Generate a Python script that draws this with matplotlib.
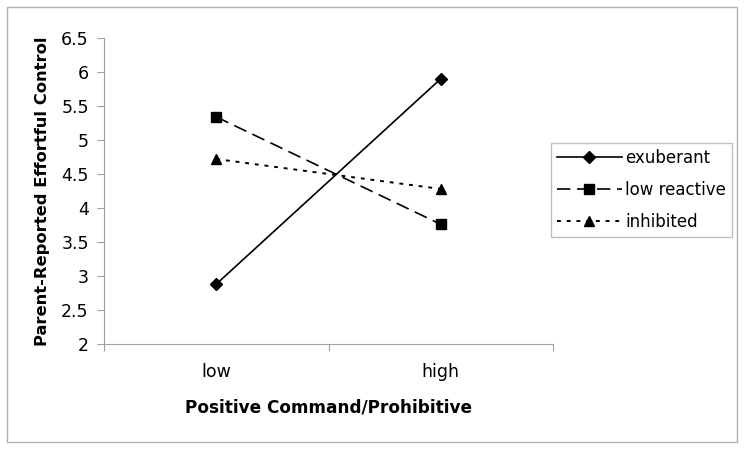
import matplotlib
matplotlib.use('Agg')
import matplotlib.pyplot as plt
from matplotlib.patches import Rectangle

categories = ['low', 'high']
exuberant = [2.88, 5.90]
low_reactive = [5.34, 3.76]
inhibited = [4.72, 4.28]

plt.rcParams['font.family'] = 'DejaVu Sans'
plt.rcParams['font.size'] = 12.5

fig = plt.figure(figsize=(7.44, 4.5), dpi=100)
ax = fig.add_axes([104 / 744, 1 - 344 / 450, 449 / 744, 306 / 450])

# outer chart border
fig.patches.append(Rectangle((7 / 744, 1 - 442 / 450), 730 / 744, 435 / 450,
                             transform=fig.transFigure, fill=False,
                             edgecolor='#b0b0b0', linewidth=1))

x = range(len(categories))
ax.plot(x, exuberant, color='black', linestyle='-', linewidth=1.2,
        marker='D', markersize=6, label='exuberant')
ax.plot(x, low_reactive, color='black', linestyle=(0, (8, 4)), linewidth=1.2,
        marker='s', markersize=6.5, label='low reactive')
ax.plot(x, inhibited, color='black', linestyle=(0, (2, 3)), linewidth=1.4,
        marker='^', markersize=7.5, label='inhibited')

ax.set_xlim(-0.5, 1.5)
ax.set_ylim(2, 6.5)
ax.set_yticks([2, 2.5, 3, 3.5, 4, 4.5, 5, 5.5, 6, 6.5])
ax.set_yticklabels(['2', '2.5', '3', '3.5', '4', '4.5', '5', '5.5', '6', '6.5'])
ax.set_xticks([-0.5, 0.5, 1.5])
ax.set_xticklabels([])
ax.set_xticks([0, 1], minor=True)
ax.set_xticklabels(categories, minor=True)
ax.tick_params(axis='x', which='minor', length=0, pad=14)
ax.tick_params(axis='x', which='major', length=5, color='#a0a0a0', direction='out')
ax.tick_params(axis='y', length=5, color='#a0a0a0', direction='out', pad=6)

for side in ['top', 'right']:
    ax.spines[side].set_visible(False)
for side in ['left', 'bottom']:
    ax.spines[side].set_color('#a0a0a0')

ax.set_xlabel('Positive Command/Prohibitive', fontweight='bold', fontsize=12.2, labelpad=12)
ax.set_ylabel('Parent-Reported Effortful Control', fontweight='bold', fontsize=11.8, labelpad=8)

leg = fig.legend(loc='center left', bbox_to_anchor=(551 / 744, 1 - 190 / 450),
                 frameon=True, fancybox=False, edgecolor='#b0b0b0',
                 fontsize=12, handlelength=3.9, borderpad=0.35, labelspacing=0.85,
                 handletextpad=0.2, borderaxespad=0)
leg.get_frame().set_linewidth(1)

fig.savefig('out.png', dpi=100)
